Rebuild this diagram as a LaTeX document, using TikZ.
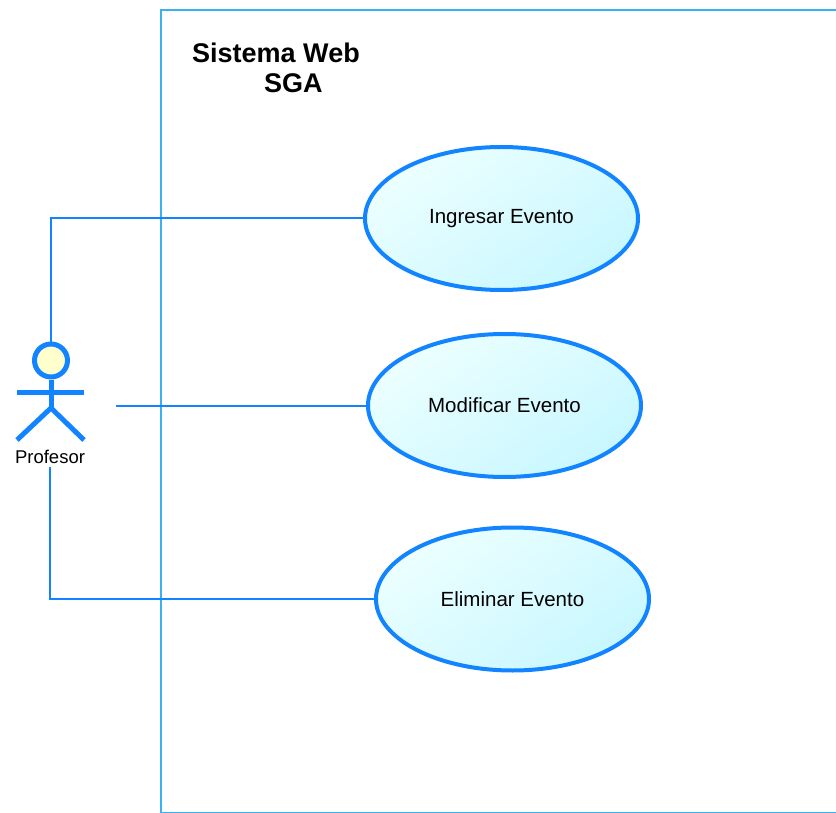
\documentclass[tikz,border=0pt]{standalone}
\usepackage{fontspec}
\setmainfont{Liberation Sans}
\usetikzlibrary{arrows,shapes,positioning}
\definecolor{umlline}{RGB}{18,132,255}
\definecolor{umlbox}{RGB}{58,178,240}
\definecolor{umlfilltop}{RGB}{236,255,255}
\definecolor{umlfillbot}{RGB}{200,247,255}
\definecolor{umlhead}{RGB}{255,255,205}
\tikzset{
    system/.style={rectangle, draw=umlbox, line width=2pt, anchor=north west, inner sep=0pt},
    system title/.style={font=\fontsize{27}{30}\selectfont\bfseries, align=left, inner sep=0pt, anchor=base west},
    use case/.style={ellipse, draw=umlline, line width=4pt, top color=umlfilltop, bottom color=umlfillbot,
        shading angle=35, minimum width=273pt, minimum height=143pt, inner sep=0pt, font=\fontsize{20.5}{24}\selectfont},
    actor head/.style={circle, draw=umlline, line width=5pt, fill=umlhead, minimum size=33pt, inner sep=0pt},
    actor body/.style={draw=umlline, line width=5pt},
    actor label/.style={font=\fontsize{18.5}{22}\selectfont, inner sep=3pt},
    link/.style={draw=umlline, line width=2pt}
}
\begin{document}
\begin{tikzpicture}[x=1pt, y=-1pt]
	\useasboundingbox (0,0) rectangle (836,813);
	\node[system, minimum width=700pt, minimum height=803pt] (sistema) at (160,9) {};
	\node[system title] (titulo) at (192,92.7) {Sistema Web\\\hspace*{72pt}SGA};
	\begin{scope}[every node/.style={use case}]
		\node (ingresar) at (501.5,218.5) {Ingresar Evento};
		\node (modificar) at (504.5,405.5) {Modificar Evento};
		\node (eliminar) at (512.5,599) {Eliminar Evento};
	\end{scope}
	\node[actor head] (head) at (51,360.5) {};
	\coordinate (hip) at (51,408);
	\draw[actor body] (head.south) -- (hip);
	\draw[actor body] (17,392) -- (84,392);
	\draw[actor body] (17,440) -- (hip) -- (84,440);
	\node[actor label] (profesor) at (50,457) {Profesor};
	\coordinate (mano) at (116,405.5);
	\draw[link] (head.north) |- (ingresar.west);
	\draw[link] (mano) -- (modificar.west);
	\draw[link] (profesor.south) |- (eliminar.west);
\end{tikzpicture}
\end{document}
